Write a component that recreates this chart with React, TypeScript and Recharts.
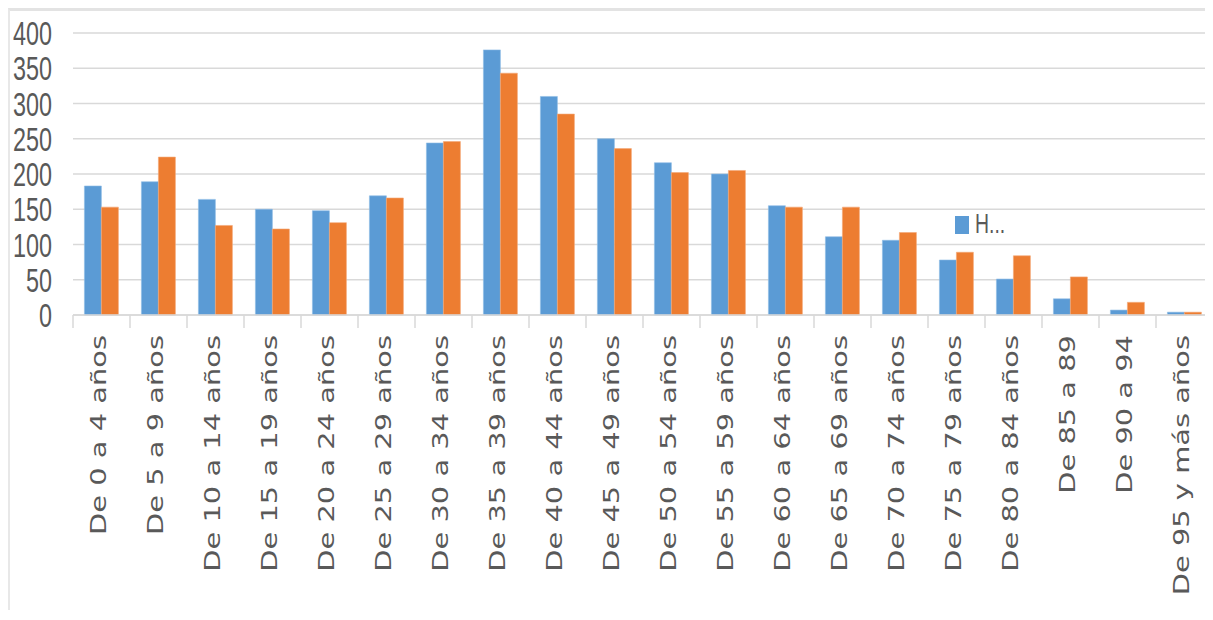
import React from 'react';
import { BarChart, Bar, XAxis, YAxis, CartesianGrid, Legend } from 'recharts';

const categories = [
  'De 0 a 4 años', 'De 5 a 9 años', 'De 10 a 14 años', 'De 15 a 19 años',
  'De 20 a 24 años', 'De 25 a 29 años', 'De 30 a 34 años', 'De 35 a 39 años',
  'De 40 a 44 años', 'De 45 a 49 años', 'De 50 a 54 años', 'De 55 a 59 años',
  'De 60 a 64 años', 'De 65 a 69 años', 'De 70 a 74 años', 'De 75 a 79 años',
  'De 80 a 84 años', 'De 85 a 89', 'De 90 a 94', 'De 95 y más años',
];
const hombres = [183, 189, 164, 150, 148, 169, 244, 376, 310, 250, 216, 200, 155, 111, 106, 78, 51, 23, 7, 4];
const mujeres = [153, 224, 127, 122, 131, 166, 246, 343, 285, 236, 202, 205, 153, 153, 117, 89, 84, 54, 18, 4];
const yTicks = [0, 50, 100, 150, 200, 250, 300, 350, 400];

const data = categories.map((c, i) => ({ cat: c, h: hombres[i], m: mujeres[i] }));

const CHART_W = 1203;
const CHART_H = 596;
const Y_W = 63;
const M_RIGHT = 0;
const BAND = (CHART_W - Y_W - M_RIGHT) / categories.length;
const TXT = '#595959';
const GRID = '#d9d9d9';

const YTick = (props: any) => {
  const { x, y, payload } = props;
  const s = String(payload.value);
  return (
    <text
      x={x - 21}
      y={y + 12}
      textAnchor="end"
      fontFamily="Liberation Sans"
      fontSize={34}
      fill={TXT}
      textLength={13 * s.length}
      lengthAdjust="spacingAndGlyphs"
    >
      {s}
    </text>
  );
};

const XTick = (props: any) => {
  const { x, y, payload, index } = props;
  const last = index === categories.length - 1;
  return (
    <g>
      <line x1={x - BAND / 2} x2={x - BAND / 2} y1={y} y2={y + 13} stroke={GRID} strokeWidth={1.5} />
      {last && <line x1={x + BAND / 2} x2={x + BAND / 2} y1={y} y2={y + 13} stroke={GRID} strokeWidth={1.5} />}
      <g transform={`translate(${x + 4},${y + 20}) rotate(-90)`}>
        <text
          x={0}
          y={0}
          transform="scale(1.41,1)"
          textAnchor="end"
          fontFamily="DejaVu Sans"
          fontSize={20.5}
          fill={TXT}
        >
          {payload.value}
        </text>
      </g>
    </g>
  );
};

const LegendBox = () => (
  <div style={{ display: 'flex', alignItems: 'center' }}>
    <div style={{ width: 14, height: 18, background: '#5B9BD5', marginRight: 6 }} />
    <span
      style={{
        fontFamily: 'Liberation Sans',
        fontSize: 27,
        color: TXT,
        display: 'inline-block',
        transform: 'scaleX(0.72)',
        transformOrigin: 'left center',
        lineHeight: '27px',
      }}
    >
      H...
    </span>
  </div>
);

export default function App() {
  return (
    <div
      style={{
        width: CHART_W,
        height: CHART_H + 3,
        borderTop: '3px solid #e3e3e3',
        borderLeft: '2px solid #e8e8e8',
        background: '#fff',
      }}
    >
      <BarChart
        width={CHART_W}
        height={CHART_H}
        data={data}
        margin={{ top: 22, right: M_RIGHT, bottom: 0, left: 0 }}
        barCategoryGap="20%"
        barGap={0}
      >
        <CartesianGrid vertical={false} stroke={GRID} strokeWidth={1.5} />
        <XAxis
          dataKey="cat"
          interval={0}
          height={CHART_H - 22 - 282}
          tickSize={0}
          tickMargin={0}
          tickLine={false}
          axisLine={{ stroke: GRID, strokeWidth: 1.5 }}
          tick={<XTick />}
        />
        <YAxis
          width={Y_W}
          domain={[0, 400]}
          ticks={yTicks}
          interval={0}
          tickSize={0}
          tickMargin={0}
          axisLine={false}
          tickLine={false}
          tick={<YTick />}
        />
        <Legend
          layout="vertical"
          align="center"
          verticalAlign="middle"
          content={<LegendBox />}
          wrapperStyle={{ position: 'absolute', left: 945, top: 200, width: 80, height: 30 }}
        />
        <Bar dataKey="h" name="Hombres" fill="#5B9BD5" stroke="#8fbce6" strokeWidth={0.6} isAnimationActive={false} />
        <Bar dataKey="m" name="Mujeres" fill="#ED7D31" stroke="#f3a877" strokeWidth={0.6} isAnimationActive={false} />
      </BarChart>
    </div>
  );
}
